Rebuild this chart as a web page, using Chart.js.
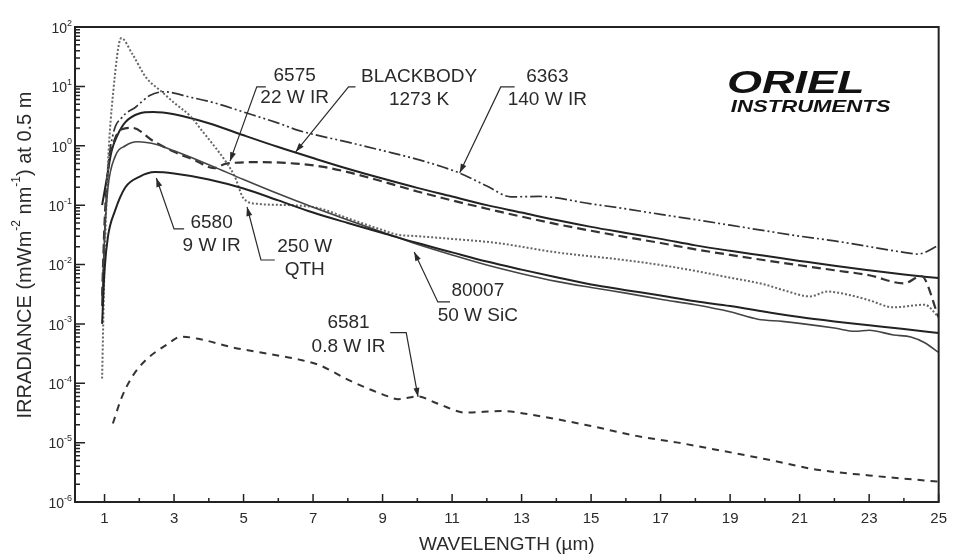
<!DOCTYPE html>
<html>
<head>
<meta charset="utf-8">
<script src="https://cdn.jsdelivr.net/npm/chart.js@4.4.1/dist/chart.umd.min.js"></script>
<style>
  body { margin: 0; background: #fff; }
  canvas { display: block; }
</style>
</head>
<body>
<canvas id="myChart" width="955" height="554"></canvas>
<script>
// wavelength (um) / irradiance (mW m-2 nm-1 at 0.5 m)

// 6363 140 W IR
const wl6363 = [0.93, 1.0, 1.1, 1.25, 1.5, 1.9, 2.3, 2.7, 3.5, 4.2, 5, 6, 6.6, 8, 9, 10, 11.2, 12, 12.7, 13.5, 15, 15.8, 17, 18, 19, 20, 21, 22, 23, 24, 24.4, 25];
const irr6363 = [2e-3, 0.03, 0.4, 1.6, 3, 4.5, 7, 8.1, 6.5, 5.2, 3.7, 2.4, 1.8, 1.15, 0.83, 0.59, 0.35, 0.21, 0.138, 0.14, 0.105, 0.09, 0.07, 0.057, 0.046, 0.037, 0.03, 0.025, 0.02, 0.016, 0.015, 0.021];

// blackbody 1273 K
const wlBB = [0.93, 1.05, 1.2, 1.37, 1.6, 2.0, 2.4, 3, 4, 5, 6, 7, 8, 9, 10, 11, 12, 13, 14, 15, 16, 17, 18, 19, 20, 21, 22, 23, 24, 25];
const irrBB = [0.1, 0.25, 0.8, 1.5, 2.5, 3.5, 3.7, 3.4, 2.4, 1.5, 0.95, 0.62, 0.41, 0.28, 0.195, 0.14, 0.1, 0.075, 0.056, 0.043, 0.034, 0.027, 0.021, 0.017, 0.014, 0.0115, 0.0095, 0.008, 0.0068, 0.0059];

// 6575 22 W IR
const wl6575 = [0.93, 1.0, 1.1, 1.3, 1.5, 1.8, 2.4, 3.0, 3.6, 4.15, 4.5, 5.5, 6.5, 7.2, 8, 9, 10, 11, 12, 13, 14, 15, 16, 17, 18, 19, 20, 21, 22, 23, 24, 24.5, 25];
const irr6575 = [3e-3, 0.05, 0.4, 1.3, 1.9, 2.0, 1.2, 0.79, 0.57, 0.42, 0.5, 0.53, 0.5, 0.45, 0.36, 0.25, 0.17, 0.12, 0.087, 0.064, 0.048, 0.037, 0.029, 0.023, 0.018, 0.0145, 0.0118, 0.0097, 0.008, 0.0066, 0.0048, 0.0064, 0.0013];

// 250 W QTH
const wlQTH = [0.93, 1.0, 1.1, 1.25, 1.48, 1.8, 2.2, 2.66, 3.0, 3.48, 3.8, 4.15, 4.49, 4.75, 5.0, 5.4, 6.3, 7.16, 8, 9, 9.4, 10, 11, 12.3, 14, 15.9, 17, 18, 19, 20, 20.6, 21.3, 21.8, 22.5, 23, 23.7, 24.6, 25];
const irrQTH = [1.2e-4, 0.01, 0.5, 8, 65, 35, 14, 8, 5.3, 3.1, 1.8, 1.0, 0.54, 0.3, 0.13, 0.105, 0.1, 0.089, 0.06, 0.038, 0.032, 0.03, 0.027, 0.023, 0.016, 0.012, 0.0098, 0.0078, 0.006, 0.0046, 0.0036, 0.0029, 0.0035, 0.003, 0.0025, 0.0019, 0.0021, 0.0013];

// 80007 50 W SiC
const wl80007 = [0.93, 1.0, 1.1, 1.3, 1.6, 1.95, 2.5, 3, 4, 5, 6, 7, 8, 9, 10, 11, 12, 13, 14, 15, 16, 17, 18, 19, 19.8, 20.5, 21, 22, 22.6, 23, 23.7, 24.2, 24.6, 25];
const irr80007 = [2e-3, 0.03, 0.2, 0.65, 1.0, 1.17, 1.05, 0.82, 0.48, 0.27, 0.155, 0.092, 0.056, 0.035, 0.022, 0.0145, 0.0098, 0.007, 0.0052, 0.0041, 0.0033, 0.0026, 0.0021, 0.0016, 0.0012, 0.0011, 0.00102, 0.00085, 0.00075, 0.00078, 0.00065, 0.0006, 0.00048, 0.00033];

// 6580 9 W IR
const wl6580 = [0.93, 1.0, 1.1, 1.3, 1.6, 2.0, 2.45, 3, 4, 5, 6, 7, 8, 9, 10, 11, 12, 13, 14, 15, 16, 17, 18, 19, 20, 21, 22, 23, 24, 25];
const irr6580 = [1e-3, 0.008, 0.03, 0.08, 0.2, 0.3, 0.36, 0.34, 0.27, 0.19, 0.12, 0.075, 0.05, 0.034, 0.023, 0.016, 0.0112, 0.0082, 0.0061, 0.0046, 0.0037, 0.003, 0.0024, 0.002, 0.0016, 0.0013, 0.0011, 0.00095, 0.00082, 0.0007];

// 6581 0.8 W IR
const wl6581 = [1.24, 1.5, 1.8, 2.2, 2.8, 3.2, 3.7, 4.7, 5.5, 6.6, 7.2, 8.0, 9.0, 9.45, 10.0, 10.6, 11.4, 12.4, 13.5, 15, 16.3, 17.5, 18.6, 20, 21.5, 23, 25];
const irr6581 = [2.1e-5, 5.9e-5, 1.3e-4, 2.5e-4, 4.5e-4, 6.1e-4, 5.6e-4, 4e-4, 3.3e-4, 2.5e-4, 2.0e-4, 1.15e-4, 6.5e-5, 5.4e-5, 6e-5, 4.5e-5, 3.2e-5, 3.4e-5, 2.8e-5, 1.9e-5, 1.3e-5, 1e-5, 7.6e-6, 5.3e-6, 3.5e-6, 2.8e-6, 2.2e-6];

// axis ticks
const xTicks = [1, 3, 5, 7, 9, 11, 13, 15, 17, 19, 21, 23, 25];
const xMinor = [2, 4, 6, 8, 10, 12, 14, 16, 18, 20, 22, 24];
const yTicks = [1e-6, 1e-5, 1e-4, 1e-3, 1e-2, 1e-1, 1, 10, 100];
const yExp = ['-6', '-5', '-4', '-3', '-2', '-1', '0', '1', '2'];

// callouts, in data units (um, irradiance)
const notes = [
  { text: ['6575', '22 W IR'], x: 6.47, y: [15, 6.4], leader: [[5.64, 9.8], [5.38, 9.8], [4.61, 0.55]] },
  { text: ['BLACKBODY', '1273 K'], x: 10.05, y: [14.4, 5.9], leader: [[8.22, 9.8], [8.02, 9.8], [6.5, 0.79]] },
  { text: ['6363', '140 W IR'], x: 13.74, y: [14.4, 5.9], leader: [[12.8, 9.8], [12.4, 9.8], [11.22, 0.35]] },
  { text: ['6580', '9 W IR'], x: 4.08, y: [0.05, 0.0206], leader: [[3.29, 0.0398], [3.0, 0.0398], [2.49, 0.287]] },
  { text: ['250 W', 'QTH'], x: 6.76, y: [0.0198, 0.0081], leader: [[5.9, 0.0119], [5.5, 0.0119], [5.1, 0.093]] },
  { text: ['80007', '50 W SiC'], x: 11.74, y: [0.0036, 0.00136], leader: [[10.94, 0.00234], [10.59, 0.00234], [9.91, 0.0163]] },
  { text: ['6581', '0.8 W IR'], x: 8.02, y: [0.00105, 0.00041], leader: [[9.22, 7.1e-4], [9.68, 7.1e-4], [10.02, 5.9e-5]] }
];

const FONT = '"Liberation Sans", Arial, Helvetica, sans-serif';
const INK = '#2a2a2a';

function toPoints(xs, ys) {
  return xs.map((x, i) => ({ x: x, y: ys[i] }));
}

function series(data, color, width, dash) {
  return {
    data: data,
    borderColor: color,
    borderWidth: width,
    borderDash: dash,
    pointRadius: 0,
    fill: false,
    cubicInterpolationMode: 'monotone'
  };
}

// text made of normal and raised parts; align 'center' or 'right' at x
function richText(ctx, parts, x, y, size, align) {
  const small = Math.round(size * 0.62);
  let total = 0;
  parts.forEach(p => {
    ctx.font = (p.sup ? small : size) + 'px ' + FONT;
    p.w = ctx.measureText(p.t).width;
    total += p.w;
  });
  let cx = align === 'right' ? x - total : x - total / 2;
  ctx.textAlign = 'left';
  ctx.textBaseline = 'middle';
  parts.forEach(p => {
    ctx.font = (p.sup ? small : size) + 'px ' + FONT;
    ctx.fillText(p.t, cx, p.sup ? y - size * 0.42 : y);
    cx += p.w;
  });
}

const decorPlugin = {
  id: 'decor',
  afterDraw(chart) {
    const ctx = chart.ctx;
    const a = chart.chartArea;
    const xs = chart.scales.x;
    const ys = chart.scales.y;
    ctx.save();

    // frame
    ctx.strokeStyle = '#222';
    ctx.lineWidth = 2;
    ctx.strokeRect(a.left, a.top, a.right - a.left, a.bottom - a.top);

    // inward ticks
    ctx.lineWidth = 1.5;
    ctx.beginPath();
    xTicks.forEach(v => {
      const px = xs.getPixelForValue(v);
      ctx.moveTo(px, a.bottom); ctx.lineTo(px, a.bottom - 8);
    });
    xMinor.forEach(v => {
      const px = xs.getPixelForValue(v);
      ctx.moveTo(px, a.bottom); ctx.lineTo(px, a.bottom - 4);
    });
    yTicks.forEach((v, i) => {
      const py = ys.getPixelForValue(v);
      ctx.moveTo(a.left, py); ctx.lineTo(a.left + 10, py);
      if (i < yTicks.length - 1) {
        for (let k = 2; k <= 9; k++) {
          const pm = ys.getPixelForValue(v * k);
          ctx.moveTo(a.left, pm); ctx.lineTo(a.left + 5, pm);
        }
      }
    });
    ctx.stroke();

    // y tick labels, 10 with raised exponent
    ctx.fillStyle = INK;
    yTicks.forEach((v, i) => {
      richText(ctx, [{ t: '10' }, { t: yExp[i], sup: true }], a.left - 3, ys.getPixelForValue(v) + 2, 14, 'right');
    });

    // callouts
    ctx.strokeStyle = INK;
    ctx.lineWidth = 1.2;
    notes.forEach(n => {
      const cx = xs.getPixelForValue(n.x);
      ctx.font = '19px ' + FONT;
      ctx.textAlign = 'center';
      ctx.textBaseline = 'middle';
      n.text.forEach((t, i) => ctx.fillText(t, cx, ys.getPixelForValue(n.y[i])));
      const pts = n.leader.map(p => [xs.getPixelForValue(p[0]), ys.getPixelForValue(p[1])]);
      ctx.beginPath();
      ctx.moveTo(pts[0][0], pts[0][1]);
      for (let i = 1; i < pts.length; i++) ctx.lineTo(pts[i][0], pts[i][1]);
      ctx.stroke();
      const tip = pts[pts.length - 1];
      const prev = pts[pts.length - 2];
      const ang = Math.atan2(tip[1] - prev[1], tip[0] - prev[0]);
      ctx.beginPath();
      ctx.moveTo(tip[0], tip[1]);
      ctx.lineTo(tip[0] - 9 * Math.cos(ang) + 3 * Math.sin(ang), tip[1] - 9 * Math.sin(ang) - 3 * Math.cos(ang));
      ctx.lineTo(tip[0] - 9 * Math.cos(ang) - 3 * Math.sin(ang), tip[1] - 9 * Math.sin(ang) + 3 * Math.cos(ang));
      ctx.closePath();
      ctx.fill();
    });

    // logo
    ctx.fillStyle = '#111';
    ctx.textAlign = 'center';
    ctx.textBaseline = 'alphabetic';
    ctx.save();
    ctx.translate(a.right - 143, a.top + 66);
    ctx.scale(1.45, 1);
    ctx.font = 'italic bold 31px ' + FONT;
    ctx.fillText('ORIEL', 0, 0);
    ctx.restore();
    ctx.save();
    ctx.translate(a.right - 128, a.top + 85);
    ctx.scale(1.3, 1);
    ctx.font = 'italic bold 17px ' + FONT;
    ctx.fillText('INSTRUMENTS', 0, 0);
    ctx.restore();

    // axis titles
    ctx.fillStyle = INK;
    richText(ctx, [{ t: 'WAVELENGTH (\u00B5m)' }], (a.left + a.right) / 2, 545, 19);
    ctx.save();
    ctx.translate(25, 255);
    ctx.rotate(-Math.PI / 2);
    richText(ctx, [
      { t: 'IRRADIANCE (mWm' }, { t: '-2', sup: true }, { t: ' nm' }, { t: '-1', sup: true }, { t: ') at 0.5 m' }
    ], 0, 0, 20);
    ctx.restore();

    ctx.restore();
  }
};

const ctx = document.getElementById('myChart').getContext('2d');
const myChart = new Chart(ctx, {
  type: 'line',
  data: {
    datasets: [
      series(toPoints(wl6581, irr6581), '#333', 2, [7, 6]),
      series(toPoints(wl6580, irr6580), '#222', 2, []),
      series(toPoints(wl80007, irr80007), '#444', 1.6, []),
      series(toPoints(wlQTH, irrQTH), '#666', 2, [2, 2]),
      series(toPoints(wl6575, irr6575), '#333', 2.2, [9, 5]),
      series(toPoints(wlBB, irrBB), '#222', 2, []),
      series(toPoints(wl6363, irr6363), '#333', 1.7, [12, 3, 2, 3, 2, 3])
    ]
  },
  options: {
    responsive: false,
    animation: false,
    layout: { padding: { top: 27, right: 12, left: 0, bottom: 0 } },
    plugins: { legend: { display: false }, tooltip: { enabled: false } },
    scales: {
      x: {
        type: 'linear',
        min: 0.15,
        max: 25,
        grid: { display: false, drawTicks: false },
        border: { display: false },
        afterBuildTicks: s => { s.ticks = xTicks.map(v => ({ value: v })); },
        afterFit: s => { s.height = 52; },
        ticks: { padding: 8, maxRotation: 0, autoSkip: false, color: INK, font: { family: FONT, size: 15 } }
      },
      y: {
        type: 'logarithmic',
        min: 1e-6,
        max: 100,
        grid: { display: false, drawTicks: false },
        border: { display: false },
        afterBuildTicks: s => { s.ticks = yTicks.map(v => ({ value: v })); },
        afterFit: s => { s.width = 75; },
        ticks: { display: false }
      }
    }
  },
  plugins: [decorPlugin]
});
</script>
</body>
</html>
